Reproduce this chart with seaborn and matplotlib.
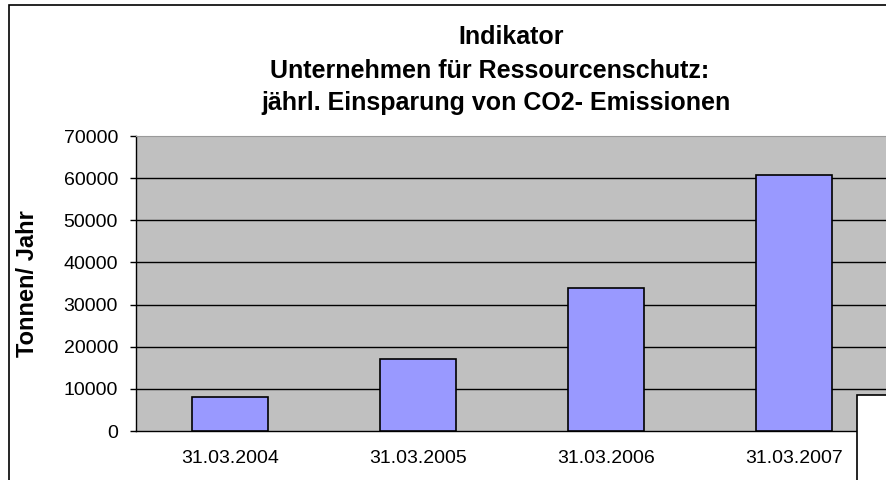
import matplotlib
matplotlib.use('Agg')
import matplotlib.pyplot as plt
import pandas as pd
import seaborn as sns
from matplotlib.patches import Rectangle

# data
dates = ["31.03.2004", "31.03.2005", "31.03.2006", "31.03.2007"]
savings = [8000, 17200, 34000, 60700]
y_ticks = [0, 10000, 20000, 30000, 40000, 50000, 60000, 70000]
title_lines = ["Indikator",
               "Unternehmen für Ressourcenschutz:",
               "jährl. Einsparung von CO2- Emissionen"]
y_label = "Tonnen/ Jahr"

sns.set_style("white")
plt.rcParams['font.family'] = ['Liberation Sans', 'DejaVu Sans']
plt.rcParams.update({'text.color': 'black', 'axes.labelcolor': 'black',
                     'xtick.color': 'black', 'ytick.color': 'black'})

df = pd.DataFrame({"Datum": dates, "CO2": savings})

W, H = 887, 480
fig = plt.figure(figsize=(W / 100, H / 100), dpi=100)
ax = fig.add_axes([136 / W, 1 - 431 / H, 752 / W, 295 / H])
ax.set_facecolor('#c0c0c0')

sns.barplot(data=df, x="Datum", y="CO2", color='#9999ff', width=0.4,
            edgecolor='black', linewidth=1.2, saturation=1, ax=ax, zorder=3)

ax.set_ylim(0, 70000)
ax.set_xlim(-0.5, 3.5)
ax.set_yticks(y_ticks)
ax.set_yticklabels([str(v) for v in y_ticks], fontsize=14)
for v in y_ticks[1:-1]:
    ax.axhline(v, color='black', lw=1, zorder=1)

# category labels centred, tick marks on the category boundaries
ax.set_xticks(range(len(dates)))
ax.set_xticklabels(dates, fontsize=14)
ax.set_xticks([-0.5, 0.5, 1.5, 2.5, 3.5], minor=True)
ax.tick_params(axis='x', which='major', length=0, pad=14)
ax.tick_params(axis='x', which='minor', length=4.3, width=1, direction='out')
ax.tick_params(axis='y', length=4.3, width=1, direction='out', left=True, pad=8.6)

ax.set_xlabel("")
ax.set_ylabel("")
fig.text(28 / W, 1 - 284 / H, y_label, rotation=90, ha='center', va='center',
         fontsize=17, fontweight='bold')

for s in ['left', 'bottom']:
    ax.spines[s].set_color('black')
    ax.spines[s].set_linewidth(1)
ax.spines['top'].set_color('#9a9a9a')
ax.spines['right'].set_visible(False)

# titles
centers = [511, 490, 496]
ys = [37, 71, 103]
for txt, cx, cy in zip(title_lines, centers, ys):
    fig.text(cx / W, 1 - cy / H, txt, ha='center', va='center',
             fontsize=18, fontweight='bold')

# outer chart border (cropped on right and bottom)
fig.patches.append(Rectangle((9 / W, -0.2), 1.2, 1.2 - 5 / H, transform=fig.transFigure,
                             fill=False, edgecolor='black', lw=1.2, zorder=0))
# cropped legend box
fig.patches.append(Rectangle((857 / W, -0.2), 0.2, 0.2 + 1 - 395 / H, transform=fig.transFigure,
                             facecolor='white', edgecolor='black', lw=1.2, zorder=10))

fig.savefig("out.png", dpi=100)
